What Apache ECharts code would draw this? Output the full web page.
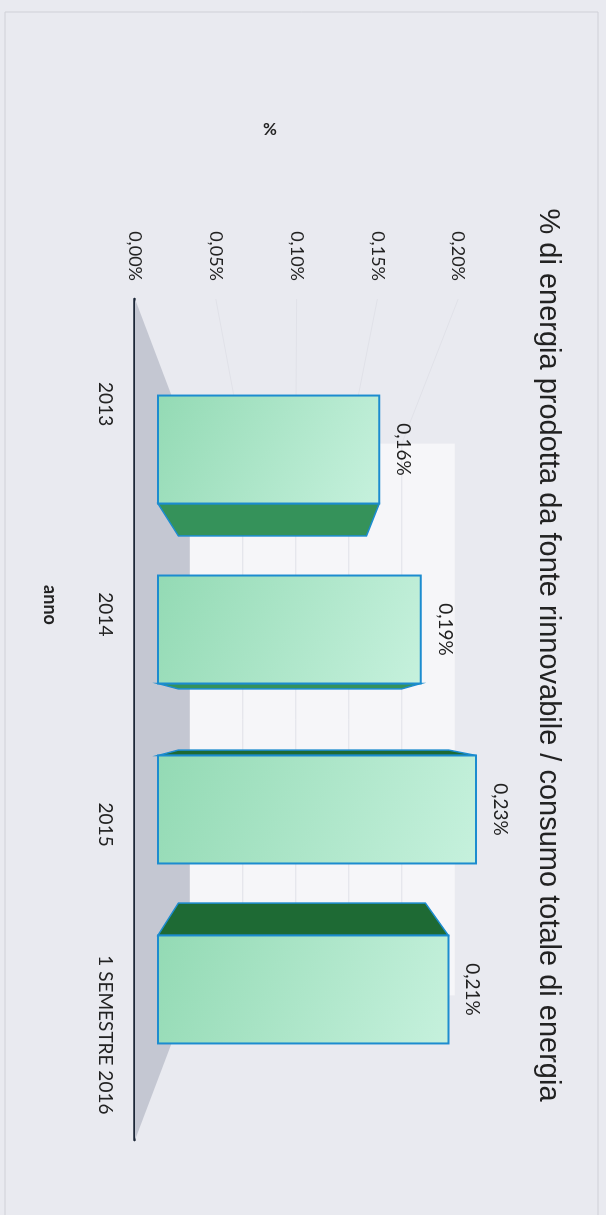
<!DOCTYPE html>
<html>
<head>
<meta charset="utf-8">
<script src="https://cdn.jsdelivr.net/npm/echarts@6/dist/echarts.min.js"></script>
<style>
  html, body { margin: 0; padding: 0; width: 606px; height: 1215px; overflow: hidden; background: #e9eaf0; }
  #wrap { position: absolute; left: 606px; top: 0; width: 1215px; height: 606px;
          transform-origin: 0 0; transform: rotate(90deg); }
</style>
</head>
<body>
<div id="wrap"></div>
<script>
// ---- data ----
const categories = ['2013', '2014', '2015', '1 SEMESTRE 2016'];
const values = [0.16, 0.19, 0.23, 0.21];
const gridTicks = [0.05, 0.10, 0.15, 0.20];
const titleText = '% di energia prodotta da fonte rinnovabile / consumo totale di energia';
const xName = 'anno';
const yName = '%';

// ---- perspective constants (styling) ----
const AXIS_MAX = 0.25;
const VP_VALUE = 0.0985;   // eye level on the value scale
const FRONT = 0.856;       // depth of bar front faces
const DEPTH = 0.85;        // bar back face relative to front
const WALL = 0.656;        // back wall depth
const BAR_RATIO = 0.6;

const fmt = v => v.toFixed(2).replace('.', ',') + '%';

function persp(params, api) {
  const cs = params.coordSys;
  const vx = cs.x + cs.width / 2;
  const vy = api.coord([0, VP_VALUE])[1];
  return (x, y, s) => [vx + s * (x - vx), vy + s * (y - vy)];
}

function wallRender(params, api) {
  const cs = params.coordSys;
  const P = persp(params, api);
  const x0 = cs.x, x1 = cs.x + cs.width;
  const yb = api.coord([0, 0])[1], yt = api.coord([0, AXIS_MAX])[1];
  const children = [
    { type: 'polygon', shape: { points: [P(x0, yb, WALL), P(x1, yb, WALL), P(x1, yt, WALL), P(x0, yt, WALL)] },
      style: { fill: '#f6f6f9' } },
    { type: 'polygon', shape: { points: [[x0, yb], [x1, yb], P(x1, yb, WALL), P(x0, yb, WALL)] },
      style: { fill: '#c4c7d2' } }
  ];
  gridTicks.forEach(t => {
    const y = api.coord([0, t])[1];
    children.push({ type: 'polyline', shape: { points: [[x0, y], P(x0, y, WALL), P(x1, y, WALL)] },
      style: { stroke: '#e0e1e8', lineWidth: 1, fill: null } });
  });
  return { type: 'group', children };
}

function barRender(params, api) {
  const cs = params.coordSys;
  const P = persp(params, api);
  const vx = cs.x + cs.width / 2;
  const i = api.value(0), v = api.value(1);
  const base = api.coord([i, 0]), top = api.coord([i, v]);
  const hw = api.size([1, 0])[0] * BAR_RATIO / 2;
  const cx = base[0], yb = base[1], yt = top[1];
  const F = FRONT, B = FRONT * DEPTH;
  const TL = P(cx - hw, yt, F), TR = P(cx + hw, yt, F), BR = P(cx + hw, yb, F), BL = P(cx - hw, yb, F);
  const bTL = P(cx - hw, yt, B), bTR = P(cx + hw, yt, B), bBR = P(cx + hw, yb, B), bBL = P(cx - hw, yb, B);
  const children = [];
  if (TR[0] < vx) {
    children.push({ type: 'polygon', shape: { points: [TR, bTR, bBR, BR] },
      style: { fill: '#35925a', stroke: '#1c8ccf', lineWidth: 1.5 } });
  } else if (TL[0] > vx) {
    children.push({ type: 'polygon', shape: { points: [TL, bTL, bBL, BL] },
      style: { fill: '#1e6a34', stroke: '#1c8ccf', lineWidth: 1.5 } });
  }
  children.push({ type: 'polygon', shape: { points: [TL, TR, BR, BL] },
    style: {
      fill: new echarts.graphic.LinearGradient(0, 1, 1, 0, [
        { offset: 0, color: '#93dab4' }, { offset: 1, color: '#c6f1dd' }]),
      stroke: '#1c8ccf', lineWidth: 2
    } });
  children.push({ type: 'text', style: {
      text: fmt(v), x: (TL[0] + TR[0]) / 2, y: TL[1] - 24,
      align: 'center', verticalAlign: 'middle',
      fontFamily: 'Lato', fontSize: 19, fill: '#222' } });
  return { type: 'group', children };
}

const chart = echarts.init(document.getElementById('wrap'), null, { width: 1215, height: 606, renderer: 'canvas' });
chart.setOption({
  backgroundColor: 'transparent',
  animation: false,
  title: {
    text: titleText, left: 650, top: 38, textAlign: 'center',
    textStyle: { fontFamily: 'Liberation Sans', fontSize: 29, fontWeight: 'normal', color: '#222' }
  },
  graphic: [
    { type: 'rect', shape: { x: 12, y: 8, width: 1215, height: 593 },
      style: { fill: 'none', stroke: '#cfd0d7', lineWidth: 1 }, z: -10 },
    { type: 'text', x: 130, y: 336, rotation: Math.PI / 2,
      style: { text: yName, align: 'center', verticalAlign: 'middle',
               fontFamily: 'Lato', fontWeight: 'bold', fontSize: 17, fill: '#222' } },
    { type: 'text', x: 605, y: 556,
      style: { text: xName, align: 'center', verticalAlign: 'middle',
               fontFamily: 'Lato', fontWeight: 'bold', fontSize: 18, fill: '#222' } }
  ],
  grid: { left: 299, right: 75, top: 67, bottom: 135 },
  xAxis: {
    type: 'category', data: categories,
    axisLine: { show: true, lineStyle: { color: '#1b2636', width: 2.5 } },
    axisTick: { show: false },
    axisLabel: { margin: 20, fontFamily: 'Lato', fontSize: 19, color: '#222' }
  },
  yAxis: {
    type: 'value', min: 0, max: AXIS_MAX, interval: 0.05,
    axisLine: { show: false }, axisTick: { show: false }, splitLine: { show: false },
    axisLabel: { margin: 18, fontFamily: 'Lato', fontSize: 18, color: '#222',
      formatter: v => (v > AXIS_MAX - 0.001 ? '' : fmt(v)) }
  },
  series: [
    { type: 'custom', renderItem: wallRender, data: [[0, 0]], z: 1, silent: true },
    { type: 'custom', renderItem: barRender, data: values.map((v, i) => [i, v]), z: 3 }
  ]
});
</script>
</body>
</html>
